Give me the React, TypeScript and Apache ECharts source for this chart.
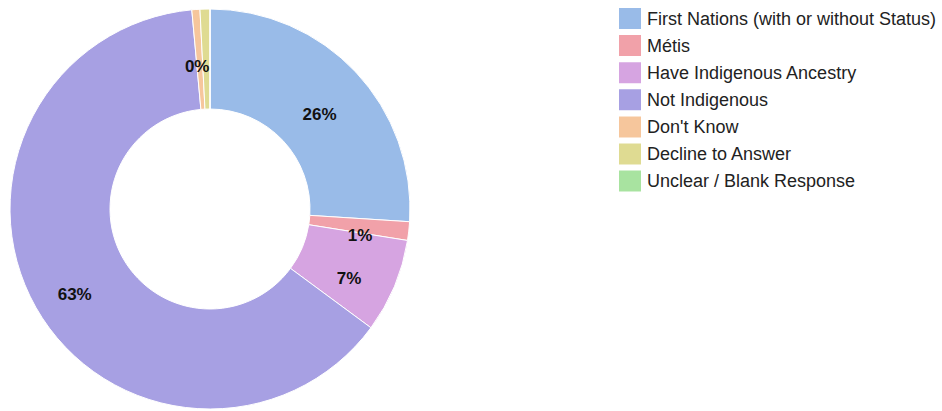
import React, { useEffect, useRef } from "react";
import * as echarts from "echarts";

const categories = [
  "First Nations (with or without Status)",
  "Métis",
  "Have Indigenous Ancestry",
  "Not Indigenous",
  "Don't Know",
  "Decline to Answer",
  "Unclear / Blank Response",
];
const values = [26.0, 1.5, 7.6, 63.4, 0.65, 0.8, 0];
const colors = ["#99bbe8", "#f1a1a9", "#d6a4e1", "#a7a0e3", "#f6c69c", "#dfdb92", "#a8e3a0"];

export default function App() {
  const ref = useRef<HTMLDivElement>(null);
  useEffect(() => {
    if (!ref.current) return;
    const chart = echarts.init(ref.current, null, { renderer: "svg" });
    const total = values.reduce((a, b) => a + b, 0);
    chart.setOption({
      animation: false,
      color: colors,
      legend: {
        orient: "vertical",
        left: 617,
        top: 6,
        padding: 0,
        itemWidth: 24,
        itemHeight: 23,
        itemGap: 2.1,
        icon: "rect",
        selectedMode: false,
        textStyle: {
          fontFamily: "Liberation Sans, Arial, sans-serif",
          fontSize: 18,
          lineHeight: 20,
          color: "#222",
        },
        data: categories,
      },
      series: [
        {
          type: "pie",
          center: [210, 209],
          radius: [100, 200],
          startAngle: 90,
          clockwise: true,
          avoidLabelOverlap: false,
          itemStyle: { borderColor: "#ffffff", borderWidth: 1 },
          emphasis: { disabled: true },
          label: {
            show: true,
            position: "inside",
            offset: [-2, 10],
            fontFamily: "Liberation Sans, Arial, sans-serif",
            fontSize: 17,
            fontWeight: "bold",
            color: "#111",
            formatter: (p: any) => Math.floor((values[p.dataIndex] / total) * 100) + "%",
          },
          labelLine: { show: false },
          data: categories.map((name, i) => ({ name, value: values[i] })),
        },
      ],
    });
    return () => chart.dispose();
  }, []);
  return <div ref={ref} style={{ position: "absolute", left: 0, top: 0, width: 942, height: 411 }} />;
}
